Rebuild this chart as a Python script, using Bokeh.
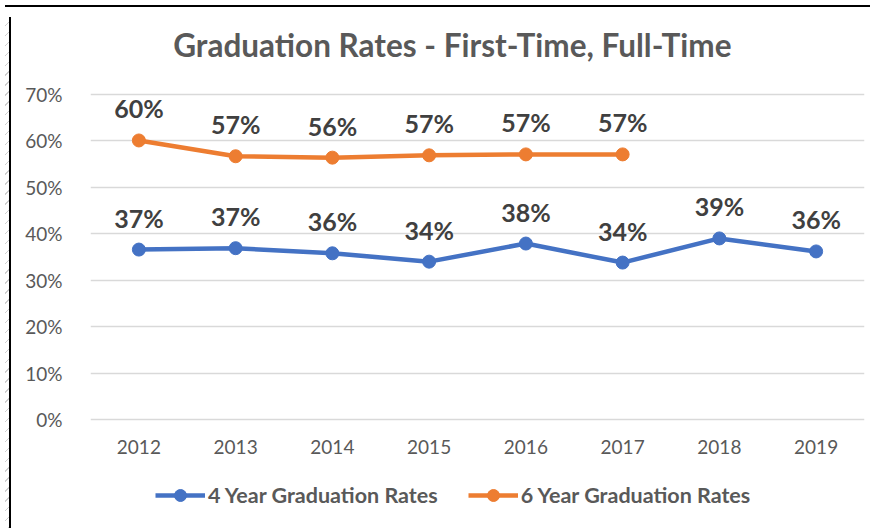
from bokeh.plotting import figure
from bokeh.models import (ColumnDataSource, FactorRange, Range1d, NumeralTickFormatter,
                          Legend, LegendItem, Label, FixedTicker, Div)
from bokeh.layouts import row, column
from bokeh.core.properties import value
from bokeh.embed import file_html
from bokeh.resources import INLINE

years = ["2012", "2013", "2014", "2015", "2016", "2017", "2018", "2019"]
four_year = [0.366, 0.369, 0.358, 0.340, 0.379, 0.338, 0.390, 0.362]
four_labels = ["37%", "37%", "36%", "34%", "38%", "34%", "39%", "36%"]
six_years = ["2012", "2013", "2014", "2015", "2016", "2017"]
six_year = [0.601, 0.567, 0.564, 0.569, 0.571, 0.571]
six_labels = ["60%", "57%", "56%", "57%", "57%", "57%"]
y_ticks = [0, 0.1, 0.2, 0.3, 0.4, 0.5, 0.6, 0.7]

title_text = "Graduation Rates - First-Time, Full-Time"
name4 = "4 Year Graduation Rates"
name6 = "6 Year Graduation Rates"

BLUE = "#4472C4"
ORANGE = "#ED7D31"
GRAY = "#595959"
FONT = "Lato"
HATCH = "repeating-linear-gradient(135deg, #ffffff 0px, #ffffff 6px, #cfcfcf 6px, #cfcfcf 7px)"

# layout in pixels
PX = 464.3        # pixels per 100%
TOP_PX = 82       # canvas y of the 70% gridline
FRAME_H = 508
y_top = 0.7 + TOP_PX / PX
y_bot = -(FRAME_H - TOP_PX - 0.7 * PX) / PX

src4 = ColumnDataSource(dict(x=years, y=four_year, t=four_labels))
src6 = ColumnDataSource(dict(x=six_years, y=six_year, t=six_labels))

p = figure(title=None, frame_width=774, frame_height=FRAME_H,
           x_range=FactorRange(*years), y_range=Range1d(y_bot, y_top),
           output_backend="svg", toolbar_location=None,
           min_border_left=74, min_border_right=11, min_border_top=0, min_border_bottom=0)
p.outline_line_color = None
p.background_fill_color = "white"
p.border_fill_color = "white"

p.xgrid.grid_line_color = None
p.ygrid.grid_line_color = "#D9D9D9"
p.ygrid.grid_line_width = 1.5
p.yaxis.ticker = FixedTicker(ticks=y_ticks)
p.yaxis.formatter = NumeralTickFormatter(format="0%")
for ax in (p.xaxis, p.yaxis):
    ax.axis_line_color = None
    ax.major_tick_line_color = None
    ax.minor_tick_line_color = None
    ax.major_label_text_color = GRAY
    ax.major_label_text_font = FONT
    ax.major_label_text_font_size = "19px"
p.xaxis.fixed_location = -34 / PX
p.xaxis.major_label_standoff = -20
p.yaxis.major_label_standoff = 22

l4 = p.line("x", "y", source=src4, line_color=BLUE, line_width=4.5)
c4 = p.scatter("x", "y", source=src4, size=13, fill_color=BLUE, line_color=BLUE)
l6 = p.line("x", "y", source=src6, line_color=ORANGE, line_width=4.5)
c6 = p.scatter("x", "y", source=src6, size=13, fill_color=ORANGE, line_color=ORANGE)

for s in (src4, src6):
    p.text("x", "y", text="t", source=s, text_align="center", text_baseline="middle",
           y_offset=-32, text_font=value(FONT), text_font_style="bold",
           text_font_size="25px", text_color="#404040")

p.add_layout(Label(x=3.74, y=0.7 + 50 / PX, text=title_text, text_align="center",
                   text_baseline="middle", text_font=FONT, text_font_style="bold",
                   text_font_size="31.5px", text_color=GRAY))

legend = Legend(items=[LegendItem(label=name4, renderers=[l4, c4]),
                       LegendItem(label=name6, renderers=[l6, c6])],
                orientation="horizontal", location=(65, 10),
                glyph_width=50, glyph_height=30, label_height=30, label_text_font=FONT,
                label_text_font_style="bold", label_text_font_size="21.5px",
                label_text_color=GRAY, spacing=30, label_standoff=3,
                border_line_color=None, background_fill_alpha=0, margin=0, padding=2)
p.add_layout(legend)

top = Div(width=865, height=2, styles={
    "width": "865px", "height": "0px", "border-bottom": "2px solid black"})
edge = Div(width=6, height=511, styles={
    "width": "4px", "height": "511px", "border-right": "2px solid black", "background": HATCH})

layout = column(top, row(edge, p, spacing=0), spacing=0)
open("out.html", "w").write(file_html(layout, INLINE))
